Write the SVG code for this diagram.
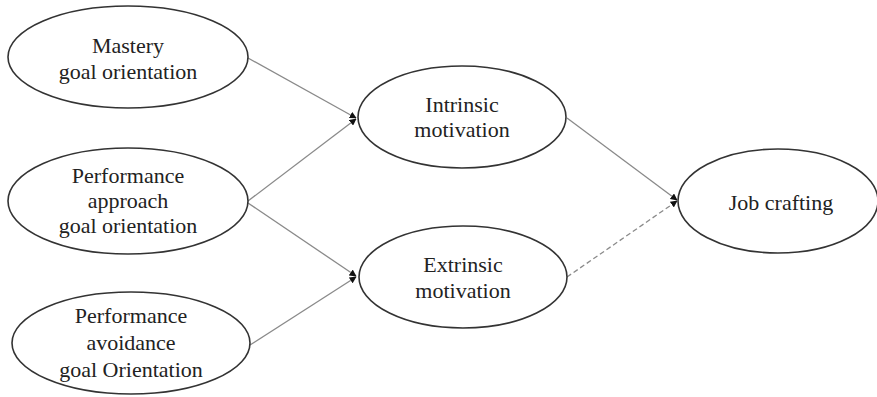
<svg xmlns="http://www.w3.org/2000/svg" width="877" height="397" viewBox="0 0 877 397">
<style>
.node ellipse{fill:#fff;stroke:#333;stroke-width:1.6}
.node text{font-family:"Liberation Serif","Times New Roman",serif;font-size:22px;fill:#222;text-anchor:middle}
.edge{stroke:#8a8a8a;stroke-width:1.3;fill:none;marker-end:url(#ah)}
.dash{stroke-dasharray:5 3}
</style>
<defs>
<marker id="ah" viewBox="0 0 10 10" refX="9" refY="5" markerWidth="7" markerHeight="7" markerUnits="userSpaceOnUse" orient="auto">
<path d="M0,0 L10,5 L0,10 Z" fill="#111"/>
</marker>
</defs>
<rect width="877" height="397" fill="#fff"/>
<g id="connectors">
<line class="edge" x1="248" y1="58" x2="356" y2="118"/>
<line class="edge" x1="248" y1="201" x2="356" y2="119"/>
<line class="edge" x1="248" y1="203" x2="356" y2="276"/>
<line class="edge" x1="250" y1="345" x2="356" y2="277"/>
<line class="edge" x1="567" y1="118" x2="677" y2="200"/>
<line class="edge dash" x1="567" y1="277" x2="677" y2="201"/>
</g>
<g id="mastery" class="node">
<ellipse cx="128" cy="57" rx="120" ry="51"/>
<text x="128" y="53">Mastery</text>
<text x="128" y="79">goal orientation</text>
</g>
<g id="perf-approach" class="node">
<ellipse cx="128" cy="201" rx="120" ry="53"/>
<text x="128" y="183">Performance</text>
<text x="128" y="208">approach</text>
<text x="128" y="233">goal orientation</text>
</g>
<g id="perf-avoidance" class="node">
<ellipse cx="131" cy="343" rx="119" ry="51"/>
<text x="131" y="323">Performance</text>
<text x="131" y="350">avoidance</text>
<text x="131" y="377">goal Orientation</text>
</g>
<g id="intrinsic" class="node">
<ellipse cx="462" cy="117" rx="104" ry="51"/>
<text x="462" y="112">Intrinsic</text>
<text x="462" y="137">motivation</text>
</g>
<g id="extrinsic" class="node">
<ellipse cx="463" cy="277" rx="104" ry="51"/>
<text x="463" y="272">Extrinsic</text>
<text x="463" y="298">motivation</text>
</g>
<g id="job-crafting" class="node">
<ellipse cx="778" cy="201" rx="100" ry="52"/>
<text x="781" y="210">Job crafting</text>
</g>
</svg>
